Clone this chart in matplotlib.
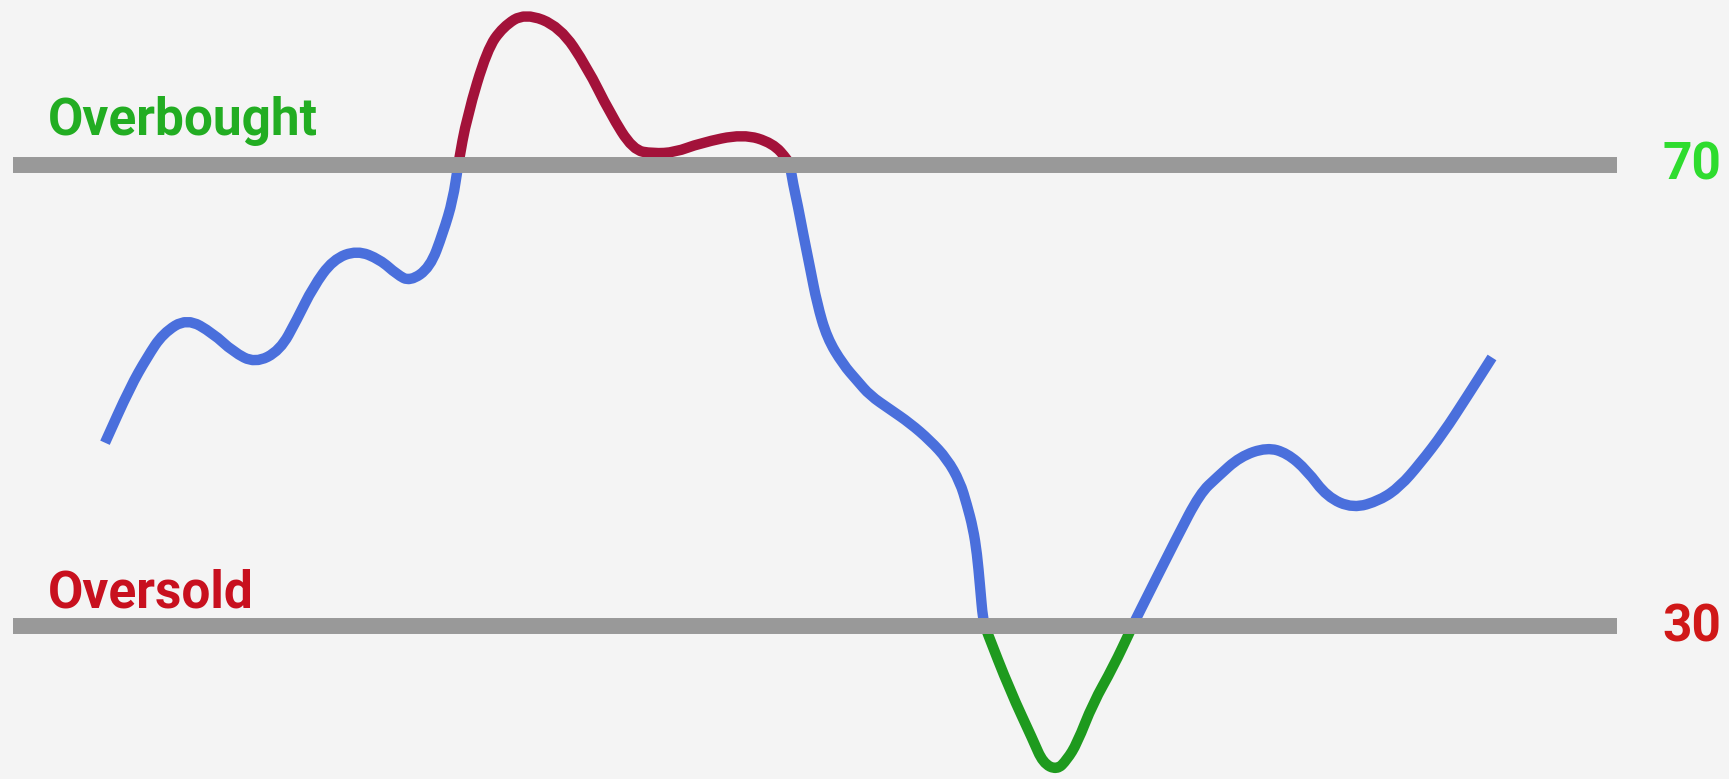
import numpy as np
import matplotlib
matplotlib.use('Agg')
import matplotlib.pyplot as plt
from matplotlib.patches import Rectangle, PathPatch
from matplotlib.path import Path

# RSI curve (x = time position, value = RSI)
x = [105, 130, 147, 163, 187, 213, 233, 255, 280, 297, 313, 333, 357, 380, 397, 410,
     430, 443, 453, 458, 467, 487, 503, 525, 560, 587, 610, 633, 653, 675, 700, 743,
     773, 788, 790, 793, 798, 803, 810, 817, 827, 843, 857, 870, 890, 910, 930, 947,
     960, 967, 973, 977, 980, 983, 986, 1010, 1033, 1043, 1057, 1067, 1077, 1093, 1113,
     1132, 1137, 1177, 1200, 1217, 1240, 1267, 1287, 1307, 1327, 1353, 1380, 1400, 1420,
     1443, 1467, 1492]
rsi = [45.9, 50.7, 53.3, 55.4, 56.7, 55.4, 53.8, 52.8, 53.9, 56.6, 59.4, 61.8, 62.6, 61.8,
       60.5, 59.9, 61.1, 64.1, 67.0, 70.0, 74.2, 80.0, 82.0, 83.2, 82.0, 78.5, 74.5, 71.3,
       71.0, 71.1, 71.9, 72.7, 71.9, 70.4, 70.0, 68.4, 66.4, 64.1, 61.1, 58.0, 55.0, 52.7,
       51.3, 50.0, 48.8, 47.6, 46.1, 44.5, 42.5, 40.5, 38.5, 36.3, 33.5, 30.5, 29.7, 24.4,
       20.1, 18.1, 17.5, 18.4, 19.8, 23.3, 26.4, 29.9, 30.8, 37.7, 41.5, 42.9, 44.7, 45.5,
       45.0, 43.5, 41.2, 40.2, 40.9, 42.1, 44.1, 46.7, 49.9, 53.3]

overbought = 70
oversold = 30

W, H = 1729, 779
fig = plt.figure(figsize=(W / 100, H / 100), dpi=100)
fig.patch.set_facecolor('#f4f4f4')
ax = fig.add_axes([0, 0, 1, 1])
ax.set_facecolor('#f4f4f4')
ax.set_xlim(0, W)
ax.set_ylim(16.72, 84.32)
ax.axis('off')

# smooth path through the read points (quadratic curves between midpoints)
pts = np.column_stack([x, rsi])
verts = [pts[0], (pts[0] + pts[1]) / 2]
codes = [Path.MOVETO, Path.LINETO]
for i in range(1, len(pts) - 1):
    verts += [pts[i], (pts[i] + pts[i + 1]) / 2]
    codes += [Path.CURVE3, Path.CURVE3]
verts.append(pts[-1])
codes.append(Path.LINETO)
curve = Path(verts, codes)

# curve, coloured by zone
zones = [(oversold, overbought, '#4a6fdc'),
         (overbought, 200, '#a3123a'),
         (-100, oversold, '#1e9a1e')]
for lo, hi, col in zones:
    p = PathPatch(curve, facecolor='none', edgecolor=col, lw=7.5,
                  joinstyle='round', capstyle='butt', zorder=2)
    ax.add_patch(p)
    p.set_clip_path(Rectangle((0, lo), W, hi - lo, transform=ax.transData))

# level lines
for lvl in (overbought, oversold):
    ax.plot([13, 1617], [lvl, lvl], color='#999999', lw=11.5,
            solid_capstyle='butt', zorder=3)

fnt = dict(family='Roboto', fontweight='bold', fontsize=37, va='baseline', ha='left')
fig.text(48 / W, 1 - 135 / H, 'Overbought', color='#22ad22', **fnt)
fig.text(48 / W, 1 - 607 / H, 'Oversold', color='#c8101e', **fnt)
fig.text(1662 / W, 1 - 180 / H, '70', color='#2edc2e', **fnt)
fig.text(1662 / W, 1 - 642 / H, '30', color='#d01818', **fnt)

fig.savefig('out.png', dpi=100, facecolor=fig.get_facecolor())
